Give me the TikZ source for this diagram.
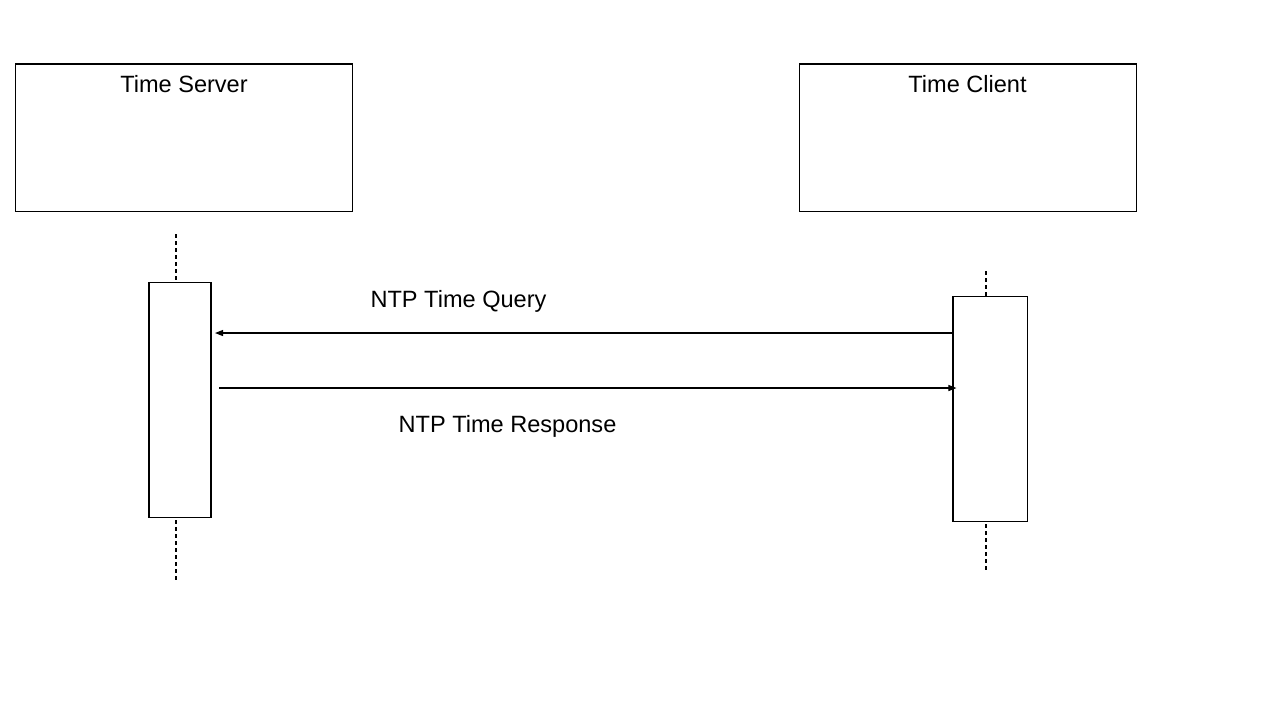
\documentclass[tikz,border=0pt]{standalone}
\usepackage{fontspec}
\setmainfont{Liberation Sans}
\usepackage{tikz}
\usetikzlibrary{arrows.meta,positioning,calc}

\begin{document}
\begin{tikzpicture}[
    x=0.01cm, y=-0.01cm,
    actor/.style={rectangle, draw, line width=0.3pt, minimum width=3.36cm,
                  minimum height=1.47cm, inner sep=0pt},
    act/.style={rectangle, draw, line width=0.3pt, inner sep=0pt},
    ttl/.style={font=\fontsize{6.7}{8}\selectfont, anchor=base, inner sep=0pt},
    msg/.style={font=\fontsize{6.7}{8}\selectfont, anchor=base, inner sep=0pt},
    life/.style={line width=0.3pt, dash pattern=on 0.04cm off 0.03cm},
    arr/.style={-{Triangle[length=0.08cm, width=0.06cm]}, line width=0.3pt}
  ]

  \useasboundingbox (0,0) rectangle (1280,720);

  % Actors
  \node[actor] (server) at (184, 137.5) {};
  \node[actor] (client) at (968, 137.5) {};
  \node[ttl] (srvttl) at (184, 92) {Time Server};
  \node[ttl] (clittl) at (967.5, 92) {Time Client};

  % Activation bars
  \node[act, minimum width=0.62cm, minimum height=2.34cm] (srvact) at (180, 400) {};
  \node[act, minimum width=0.74cm, minimum height=2.24cm] (cliact) at (990, 409) {};

  % Lifelines
  \coordinate (srvtop) at (176, 234);
  \coordinate (srvbot) at (176, 582);
  \coordinate (clitop) at (986, 271);
  \coordinate (clibot) at (986, 570);
  \draw[life] (srvtop) -- (srvtop |- srvact.north);
  \draw[life] (srvtop |- 0,520) -- (srvbot);
  \draw[life] (clitop) -- (clitop |- cliact.north);
  \draw[life] (clitop |- 0,524) -- (clibot);

  % Messages
  \coordinate (qend) at (215, 333);
  \coordinate (rstart) at (219, 388);
  \draw[arr] (cliact.west |- qend) -- (qend);
  \draw[arr] (rstart) -- ($(cliact.west |- rstart) + (4,0)$);
  \node[msg] (query) at (458.5, 307) {NTP Time Query};
  \node[msg] (resp) at (507.5, 432) {NTP Time Response};

\end{tikzpicture}
\end{document}
